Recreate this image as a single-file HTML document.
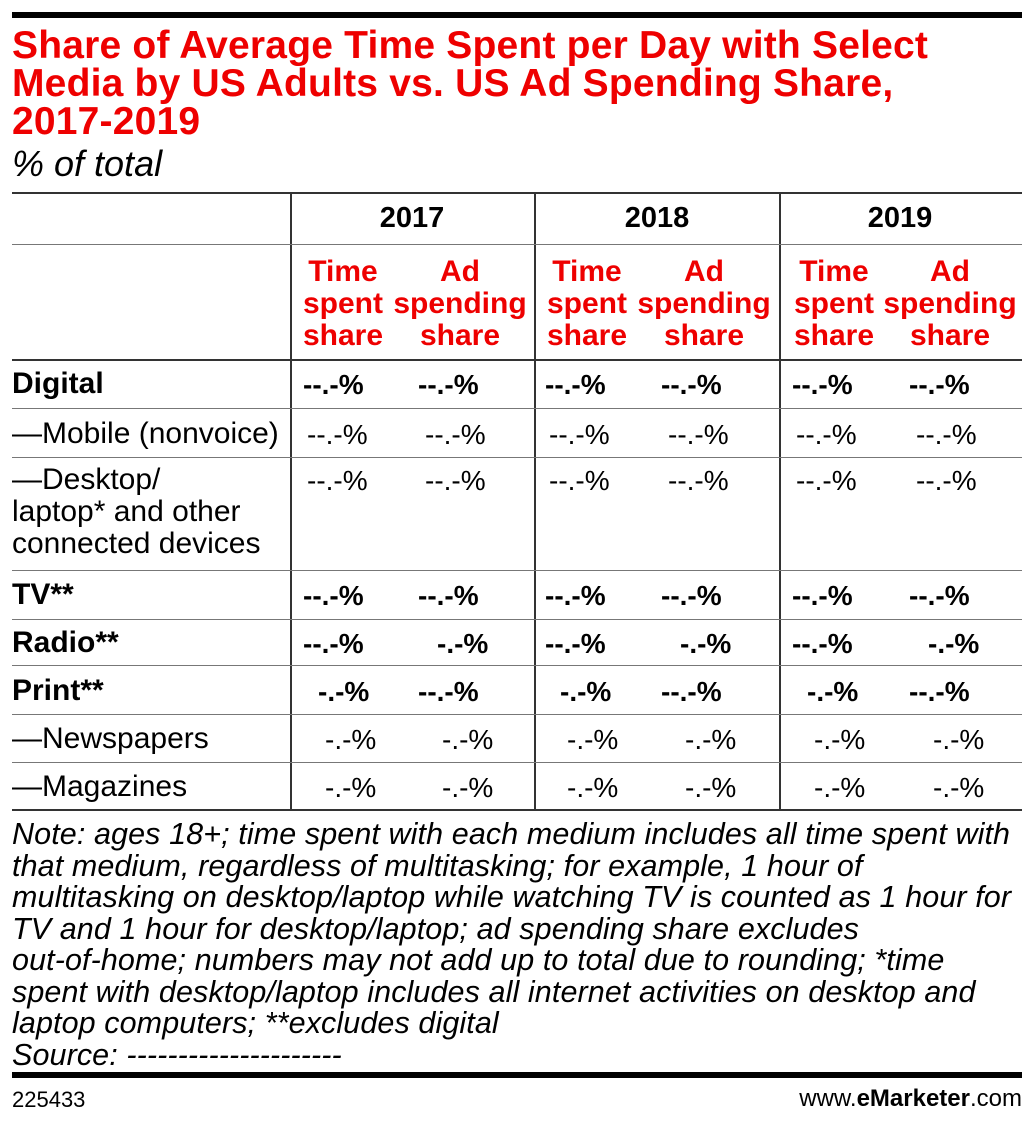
<!DOCTYPE html>
<html><head><meta charset="utf-8"><style>
body{margin:0;width:1035px;height:1125px;background:#fff;position:relative;overflow:hidden;font-family:"Liberation Sans",sans-serif;color:#000}
.a{position:absolute;white-space:nowrap}
.t{color:#e00;font-weight:bold;font-size:39px;left:12px;line-height:38px;letter-spacing:0.2px}
.h{position:absolute;height:2px;background:#333;left:12px;width:1010px}
.g{position:absolute;height:1px;background:#777;left:12px;width:1010px}
.v{position:absolute;width:2px;background:#333;top:193px;height:617px}
.lab{font-size:30px;left:12px}
.b{font-weight:bold}
.sh{color:#e00;font-weight:bold;font-size:30px;line-height:32px;text-align:center;transform:translateX(-50%)}
.note{font-size:30.5px;font-style:italic;left:12px;line-height:31.5px;letter-spacing:0.1px}
</style></head><body>
<div class="a" style="left:12px;top:12px;width:1010px;height:6px;background:#000"></div>
<div class="a t" style="top:27px">Share of Average Time Spent per Day with Select<br>Media by US Adults vs. US Ad Spending Share,<br>2017-2019</div>
<div class="a" style="left:12px;top:143px;font-size:36px;font-style:italic">% of total</div>

<div class="h" style="top:192px"></div>
<div class="v" style="left:290px"></div><div class="v" style="left:534px"></div><div class="v" style="left:779px"></div>
<div class="a b" style="left:412px;top:202px;font-size:29px;transform:translateX(-50%)">2017</div>
<div class="a b" style="left:657px;top:202px;font-size:29px;transform:translateX(-50%)">2018</div>
<div class="a b" style="left:900px;top:202px;font-size:29px;transform:translateX(-50%)">2019</div>
<div class="g" style="top:244px"></div>
<div class="a sh" style="left:343px;top:256px">Time<br>spent<br>share</div>
<div class="a sh" style="left:460px;top:256px">Ad<br>spending<br>share</div>
<div class="a sh" style="left:587px;top:256px">Time<br>spent<br>share</div>
<div class="a sh" style="left:704px;top:256px">Ad<br>spending<br>share</div>
<div class="a sh" style="left:834px;top:256px">Time<br>spent<br>share</div>
<div class="a sh" style="left:950px;top:256px">Ad<br>spending<br>share</div>
<div class="h" style="top:359px"></div>
<div id="rows"></div>

<div class="h" style="top:809px"></div>
<div class="a note" style="top:819px">Note: ages 18+; time spent with each medium includes all time spent with<br>that medium, regardless of multitasking; for example, 1 hour of<br>multitasking on desktop/laptop while watching TV is counted as 1 hour for<br>TV and 1 hour for desktop/laptop; ad spending share excludes<br>out-of-home; numbers may not add up to total due to rounding; *time<br>spent with desktop/laptop includes all internet activities on desktop and<br>laptop computers; **excludes digital<br>Source: ---------------------</div>
<div class="a" style="left:12px;top:1072px;width:1010px;height:6px;background:#000"></div>
<div class="a" style="left:12px;top:1087px;font-size:22px">225433</div>
<div class="a" style="right:13px;top:1085px;font-size:24px">www.<b>eMarketer</b>.com</div>
<script>
const labels=["Digital","—Mobile (nonvoice)","—Desktop/<br>laptop* and other<br>connected devices","TV**","Radio**","Print**","—Newspapers","—Magazines"];
const bold=[1,0,0,1,1,1,0,0];
const rowTop=[368,418,464,579,627,675,723,771];
const lineY=[408,457,570,619,665,714,762];
const timeVals=["--.-%","--.-%","--.-%","--.-%","--.-%","-.-%","-.-%","-.-%"];
const adVals=["--.-%","--.-%","--.-%","--.-%","-.-%","--.-%","-.-%","-.-%"];
const cols=[[303,418],[545,661],[792,909]];
const root=document.getElementById('rows');
labels.forEach((l,i)=>{
  const d=document.createElement('div');
  d.className='a lab'+(bold[i]?' b':'');
  d.style.top=rowTop[i]+'px';d.style.lineHeight='32px';
  d.innerHTML=l;
  
  
  root.appendChild(d);
  cols.forEach(c=>{
    const tOff=bold[i]?(timeVals[i].length<5?15:0):(timeVals[i].length<5?22:4);
    const aOff=bold[i]?(adVals[i].length<5?19:0):(adVals[i].length<5?24:7);
    [[timeVals[i],c[0]+tOff],[adVals[i],c[1]+aOff]].forEach(([v,x])=>{
      const e=document.createElement('div');
      e.className='a'+(bold[i]?' b':'');
      e.style.fontSize='28px';e.style.left=x+'px';e.style.top=(rowTop[i]+1)+'px';
      e.textContent=v;
      
      
      root.appendChild(e);
    });
  });
});
lineY.forEach(y=>{
  const g=document.createElement('div');
  g.className='g';g.style.top=y+'px';
  
  
  root.appendChild(g);
});
</script>
</body></html>
